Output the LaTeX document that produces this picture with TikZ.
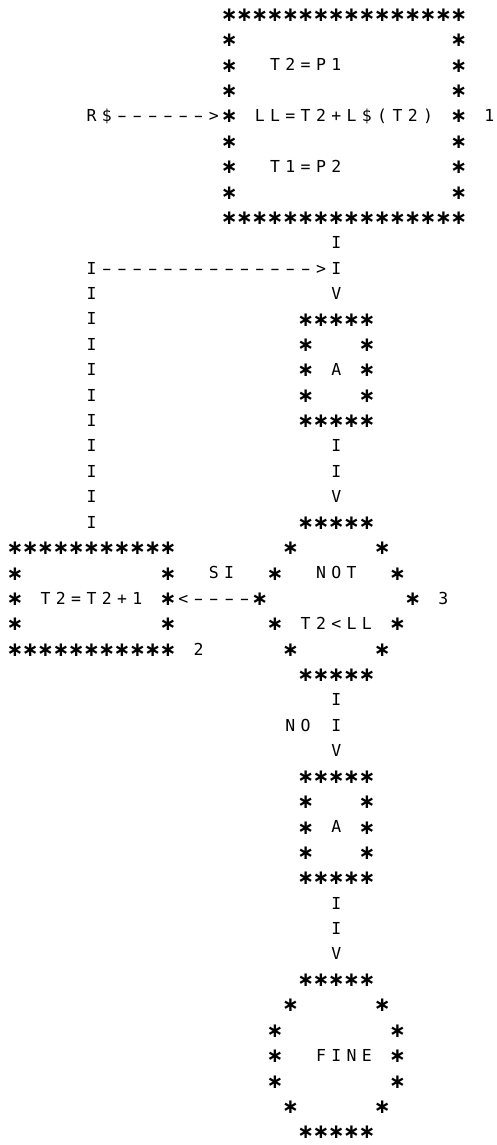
\documentclass[tikz,border=0pt]{standalone}
\usepackage{fontspec}
\usepackage{graphicx}
\newfontfamily\gridfont{DejaVu Sans Mono}
\newfontfamily\starfont{DejaVu Sans}
\tikzset{
  ch/.style={inner sep=0pt, anchor=base, yshift=-6pt,
    font=\gridfont\fontsize{16.5}{16.5}\selectfont},
  st/.style={inner sep=0pt, anchor=base, yshift=-7.3pt,
    font=\starfont\bfseries\fontsize{20}{20}\selectfont},
}
% one star at (row,col)
\newcommand\pstar[2]{\node[st] (s-#1-#2) at (#2,#1) {∗};}
% a row of stars
\newcommand\pstars[3]{\foreach \c in {#2,...,#3}{\node[st] (s-#1-\c) at (\c,#1) {∗};}}
% characters from a start column
\newcommand\ptext[3]{\foreach \ch [count=\i from #2] in {#3}{\node[ch] (t-#1-\i) at (\i,#1) {\ch};}}
% dashes
\newcommand\pdash[3]{\foreach \c in {#2,...,#3}{\node[ch] (d-#1-\c) at (\c,#1) {\scalebox{1.7}[1]{-}};}}
\begin{document}
\begin{tikzpicture}
\useasboundingbox (0,0) rectangle (496pt,-1145pt);
\begin{scope}[shift={(15pt,-14pt)}, x=15.3pt, y=-25.4pt]
% top box
\pstars{0}{14}{29}
\foreach \r in {1,2,3,5,6,7}{\pstar{\r}{14}\pstar{\r}{29}}
\ptext{2}{17}{T,2,=,P,1}
\ptext{4}{5}{R,\$}
\pdash{4}{7}{12}
\ptext{4}{13}{>}
\pstar{4}{14}
\ptext{4}{16}{L,L,=,T,2,+,L,\$,{(},T,2,{)}}
\pstar{4}{29}
\ptext{4}{31}{1}
\ptext{6}{17}{T,1,=,P,2}
\pstars{8}{14}{29}
% connector into first A
\ptext{9}{21}{I}
\ptext{10}{5}{I}
\pdash{10}{6}{19}
\ptext{10}{20}{>,I}
\foreach \r in {11,...,20}{\ptext{\r}{5}{I}}
\ptext{11}{21}{V}
% first A box
\pstars{12}{19}{23}
\pstar{13}{19}\pstar{13}{23}
\pstar{14}{19}\ptext{14}{21}{A}\pstar{14}{23}
\pstar{15}{19}\pstar{15}{23}
\pstars{16}{19}{23}
\ptext{17}{21}{I}
\ptext{18}{21}{I}
\ptext{19}{21}{V}
% decision
\pstars{20}{19}{23}
\pstars{21}{0}{10}
\pstar{21}{18}\pstar{21}{24}
\pstar{22}{0}\pstar{22}{10}
\ptext{22}{13}{S,I}
\pstar{22}{17}
\ptext{22}{20}{N,O,T}
\pstar{22}{25}
\pstar{23}{0}
\ptext{23}{2}{T,2,=,T,2,+,1}
\pstar{23}{10}
\ptext{23}{11}{<}
\pdash{23}{12}{15}
\pstar{23}{16}
\pstar{23}{26}
\ptext{23}{28}{3}
\pstar{24}{0}\pstar{24}{10}
\pstar{24}{17}
\ptext{24}{19}{T,2,<,L,L}
\pstar{24}{25}
\pstars{25}{0}{10}
\ptext{25}{12}{2}
\pstar{25}{18}\pstar{25}{24}
\pstars{26}{19}{23}
\ptext{27}{21}{I}
\ptext{28}{18}{N,O}
\ptext{28}{21}{I}
\ptext{29}{21}{V}
% second A box
\pstars{30}{19}{23}
\pstar{31}{19}\pstar{31}{23}
\pstar{32}{19}\ptext{32}{21}{A}\pstar{32}{23}
\pstar{33}{19}\pstar{33}{23}
\pstars{34}{19}{23}
\ptext{35}{21}{I}
\ptext{36}{21}{I}
\ptext{37}{21}{V}
% FINE
\pstars{38}{19}{23}
\pstar{39}{18}\pstar{39}{24}
\pstar{40}{17}\pstar{40}{25}
\pstar{41}{17}\ptext{41}{20}{F,I,N,E}\pstar{41}{25}
\pstar{42}{17}\pstar{42}{25}
\pstar{43}{18}\pstar{43}{24}
\pstars{44}{19}{23}
\end{scope}
\end{tikzpicture}
\end{document}
